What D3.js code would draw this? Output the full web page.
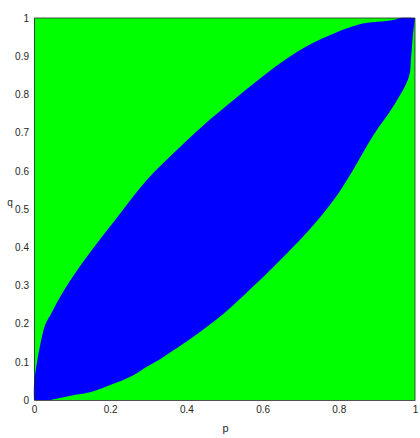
<!DOCTYPE html>
<html>
<head>
<meta charset="utf-8">
<script src="https://cdn.jsdelivr.net/npm/d3@7"></script>
<style>
	body { margin:0; background:#fff; }
	text { font-family:"Liberation Sans", Arial, sans-serif; }
</style>
</head>
<body>
<svg id="chart"></svg>
<script>
/*************** data *****************/
// upper (left) edge of the blue region, p ascending
var upperP = [0, 0, 0.008, 0.018, 0.029, 0.047, 0.064, 0.10, 0.15, 0.213, 0.296, 0.384, 0.471, 0.523, 0.585, 0.647, 0.733, 0.848, 0.90, 0.944, 0.96, 1];
var upperQ = [0, 0.04, 0.10, 0.153, 0.196, 0.23, 0.262, 0.32, 0.39, 0.471, 0.576, 0.663, 0.742, 0.785, 0.835, 0.882, 0.935, 0.982, 0.99, 0.995, 1, 1];
// lower (right) edge of the blue region, p ascending
var lowerP = [0.042, 0.10, 0.147, 0.20, 0.261, 0.296, 0.331, 0.366, 0.41, 0.454, 0.50, 0.541, 0.629, 0.673, 0.725, 0.787, 0.839, 0.892, 0.944, 0.984, 0.99, 0.995, 1];
var lowerQ = [0, 0.012, 0.02, 0.039, 0.065, 0.087, 0.107, 0.130, 0.160, 0.192, 0.228, 0.265, 0.349, 0.393, 0.448, 0.524, 0.605, 0.695, 0.77, 0.846, 0.90, 0.96, 1];

var xTicks = [0, 0.2, 0.4, 0.6, 0.8, 1];
var xTickLabels = ["0", "0.2", "0.4", "0.6", "0.8", "1"];
var yTicks = [0, 0.1, 0.2, 0.3, 0.4, 0.5, 0.6, 0.7, 0.8, 0.9, 1];
var yTickLabels = ["0", "0.1", "0.2", "0.3", "0.4", "0.5", "0.6", "0.7", "0.8", "0.9", "1"];

/*************** settings *****************/
var width = 420,
	height = 438,
	margin = {top:18, right:5, bottom:38, left:34},
	innerWidth = width - margin.left - margin.right,
	innerHeight = height - margin.top - margin.bottom,
	outsideColor = "#00ff00",
	insideColor = "#0000ff",
	textColor = "#262626";

var svg = d3.select("#chart")
	.attr("width", width)
	.attr("height", height);

var g = svg.append("g")
	.attr("transform", "translate(" + margin.left + "," + margin.top + ")");

/*************** scales *****************/
var xScale = d3.scaleLinear().domain([0, 1]).range([0, innerWidth]);
var yScale = d3.scaleLinear().domain([0, 1]).range([innerHeight, 0]);

/*************** regions *****************/
g.append("rect")
	.attr("x", xScale(0))
	.attr("y", yScale(1))
	.attr("width", xScale(1) - xScale(0))
	.attr("height", yScale(0) - yScale(1))
	.attr("fill", outsideColor);

var upperPts = upperP.map(function(p, i) { return [p, upperQ[i]]; });
var lowerPts = lowerP.map(function(p, i) { return [p, lowerQ[i]]; }).reverse();

var line = d3.line()
	.x(function(d) { return xScale(d[0]); })
	.y(function(d) { return yScale(d[1]); })
	.curve(d3.curveCatmullRom.alpha(0.5));

// up along the upper edge, back down along the lower edge, close at the origin
var regionPath = line(upperPts) + "L" + line(lowerPts).slice(1) + "Z";

g.append("path")
	.attr("d", regionPath)
	.attr("fill", insideColor);

/*************** axes *****************/
var xAxis = d3.axisBottom(xScale)
	.tickValues(xTicks)
	.tickFormat(function(d, i) { return xTickLabels[i]; })
	.tickSize(0)
	.tickPadding(6);

var yAxis = d3.axisLeft(yScale)
	.tickValues(yTicks)
	.tickFormat(function(d, i) { return yTickLabels[i]; })
	.tickSize(0)
	.tickPadding(5);

var gx = g.append("g")
	.attr("transform", "translate(0," + innerHeight + ")")
	.call(xAxis);
var gy = g.append("g").call(yAxis);

[gx, gy].forEach(function(a) {
	a.select(".domain").attr("stroke", textColor).attr("stroke-width", 0.8);
	a.selectAll("text").attr("fill", textColor).style("font-size", "10px");
});

// box on top and right
g.append("path")
	.attr("d", "M" + xScale(0) + "," + yScale(1) + "H" + xScale(1) + "V" + yScale(0))
	.attr("fill", "none")
	.attr("stroke", textColor)
	.attr("stroke-width", 0.8);

/*************** labels *****************/
g.append("text")
	.attr("x", innerWidth / 2 + 1)
	.attr("y", innerHeight + 32)
	.attr("text-anchor", "middle")
	.attr("fill", textColor)
	.style("font-size", "11px")
	.text("p");

g.append("text")
	.attr("x", -24)
	.attr("y", innerHeight / 2 - 3)
	.attr("text-anchor", "middle")
	.attr("fill", textColor)
	.style("font-size", "10px")
	.text("q");
</script>
</body>
</html>
